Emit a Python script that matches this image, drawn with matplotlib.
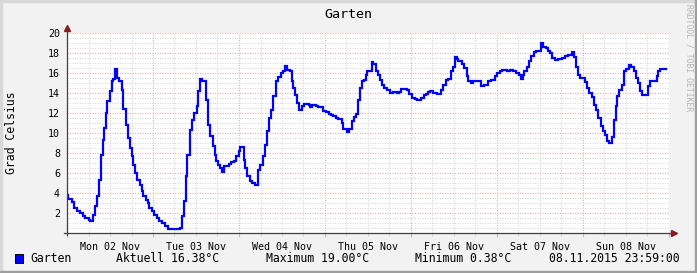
import matplotlib
matplotlib.use("Agg")
import matplotlib.pyplot as plt
import matplotlib.ticker as mticker
from matplotlib.patches import Rectangle

# Messwerte Garten, Stunden ab Mo 02.11.2015 00:00 (Stufenwerte)
HOURS = [
    0.0, 0.4, 1.3, 2.0, 2.7, 3.6, 4.4, 5.0, 6.0, 6.4, 7.3, 7.8, 8.5, 9.0, 9.5,
    10.0, 10.4, 10.9, 11.3, 11.9, 12.5, 12.9, 13.5, 14.0, 14.6, 15.3, 15.7,
    16.4, 16.9, 17.6, 18.0, 18.5, 19.0, 19.6, 20.4, 20.8, 21.3, 22.0, 22.5,
    23.0, 23.6, 24.4, 25.0, 25.8, 26.4, 27.3, 28.2, 29.6, 31.5, 32.1, 32.7,
    33.2, 33.6, 34.3, 34.9, 35.5, 36.2, 36.6, 37.2, 37.8, 38.9, 39.3, 40.0,
    40.7, 41.2, 41.6, 42.1, 42.6, 43.2, 43.8, 45.1, 45.8, 46.6, 47.2, 47.9,
    48.4, 49.4, 49.8, 50.3, 51.0, 51.6, 52.4, 53.3, 53.9, 54.7, 55.2, 55.8,
    56.4, 57.0, 57.6, 58.2, 59.0, 59.6, 60.4, 60.8, 61.5, 62.2, 62.7, 63.2,
    63.6, 64.3, 64.8, 65.7, 66.2, 67.4, 67.8, 68.5, 69.4, 70.1, 71.5, 72.3,
    73.0, 73.6, 74.3, 75.1, 75.7, 76.7, 77.1, 78.2, 78.8, 79.5, 80.1, 80.7,
    81.3, 81.8, 82.2, 83.0, 83.4, 83.8, 85.0, 85.5, 86.1, 86.9, 87.4, 88.0,
    88.6, 89.2, 90.1, 91.1, 92.0, 92.7, 93.2, 94.8, 95.5, 96.2, 97.0, 97.6,
    98.8, 99.5, 100.1, 100.8, 101.3, 102.2, 103.2, 104.4, 105.0, 105.7, 106.4,
    107.2, 107.8, 108.3, 108.8, 109.2, 110.3, 110.9, 111.5, 112.0, 112.7,
    113.4, 115.5, 116.4, 117.6, 118.2, 119.5, 120.1, 120.9, 121.5, 122.7,
    123.6, 124.6, 125.3, 126.2, 126.6, 127.2, 127.6, 128.3, 129.0, 129.5,
    130.2, 130.9, 132.3, 132.9, 133.7, 134.3, 134.8, 135.3, 136.2, 137.1,
    138.1, 139.0, 139.9, 140.9, 141.6, 142.1, 142.7, 143.2, 144.6, 145.2,
    145.8, 146.4, 147.1, 147.6, 148.3, 148.9, 149.5, 150.1, 150.6, 151.3,
    152.0, 152.7, 153.1, 153.6, 154.1, 154.8, 155.4, 156.0, 156.7, 157.3,
    158.1, 158.7, 159.4, 159.9, 160.4, 162.2, 162.7, 164.6, 165.0, 165.5,
    167.3,
]
TEMPS = [
    3.8, 3.4, 3.1, 2.5, 2.2, 2.0, 1.75, 1.5, 1.35, 1.25, 1.8, 2.7, 3.7, 5.3, 7.8,
    9.3, 10.5, 12.0, 13.2, 14.2, 15.2, 15.4, 16.4, 15.5, 15.2, 14.3, 12.4,
    10.8, 9.5, 8.5, 7.7, 6.8, 6.0, 5.3, 4.8, 4.2, 3.7, 3.3, 3.0,
    2.5, 2.2, 1.8, 1.5, 1.25, 1.0, 0.7, 0.45, 0.38, 0.5, 1.7, 3.2,
    5.7, 7.8, 10.3, 11.3, 12.0, 12.7, 14.2, 15.4, 15.2, 13.3, 10.8, 9.7,
    8.7, 7.8, 7.2, 6.8, 6.5, 6.1, 6.7, 6.9, 7.1, 7.25, 7.7, 8.2,
    8.6, 7.3, 6.5, 5.7, 5.2, 5.0, 4.8, 6.3, 6.8, 7.7, 8.8, 10.2,
    11.5, 12.3, 13.7, 15.2, 15.6, 16.0, 16.2, 16.7, 16.3, 16.2, 15.2, 14.5,
    13.8, 13.0, 12.3, 12.7, 12.9, 12.8, 12.6, 12.8, 12.7, 12.6, 12.2, 12.1,
    11.9, 11.8, 11.7, 11.5, 11.4, 11.0, 10.4, 10.1, 10.4, 11.2, 11.6, 11.9,
    13.3, 14.5, 15.2, 15.3, 15.8, 16.2, 17.1, 16.9, 16.2, 15.8, 15.3, 14.8,
    14.5, 14.3, 14.0, 14.1, 14.0, 14.1, 14.4, 14.3, 13.9, 13.5, 13.4, 13.3,
    13.5, 13.8, 13.9, 14.1, 14.2, 14.0, 13.9, 14.3, 14.8, 15.3, 15.4,
    16.2, 16.6, 17.6, 17.4, 17.2, 16.9, 16.5, 15.7, 15.2, 15.0,
    15.2, 14.7, 14.8, 15.2, 15.3, 15.7, 16.0, 16.2, 16.3, 16.2,
    16.3, 16.2, 16.0, 15.8, 15.4, 15.8, 16.2, 16.6, 17.2, 17.7,
    18.1, 18.2, 19.0, 18.6, 18.5, 18.2, 18.0, 17.5, 17.3, 17.4,
    17.5, 17.7, 17.8, 18.1, 17.6, 16.6, 15.8, 15.5, 15.1, 14.5,
    14.0, 13.6, 12.8, 12.3, 11.5, 10.7, 10.2, 9.8, 9.2, 9.0,
    9.6, 11.3, 12.7, 13.7, 14.3, 14.8, 16.2, 16.4, 16.8, 16.6,
    16.2, 15.5, 15.0, 14.2, 13.8, 14.7, 15.2, 15.7, 16.2, 16.4,
    16.38,
]
DAY_LABELS = ["Mon 02 Nov", "Tue 03 Nov", "Wed 04 Nov", "Thu 05 Nov",
              "Fri 06 Nov", "Sat 07 Nov", "Sun 08 Nov"]
LEGEND_NAME = "Garten"
LEGEND_STATS = ["Aktuell 16.38°C", "Maximum 19.00°C", "Minimum 0.38°C"]
TIMESTAMP = "08.11.2015 23:59:00"

BACK = "#f2f2f2"
MGRID = "#eaa8a8"
GRID = "#d6d6d6"
AXIS = "#404040"
ARROW = "#8b1a1a"
LINE = "#0000ff"
MONO = "DejaVu Sans Mono"

W, H = 697, 273
fig = plt.figure(figsize=(W / 100, H / 100), dpi=100, facecolor=BACK)
ax = fig.add_axes([67 / W, 40 / H, 602 / W, 200 / H])
ax.set_facecolor("white")

ax.plot(HOURS, TEMPS, color=LINE, linewidth=1.6, drawstyle="steps-post",
        solid_joinstyle="miter", zorder=3)

ax.set_xlim(0, 168)
ax.set_ylim(0, 20)

# Gitter: Tage rot, 6h grau; 2 Grad rot, 0.5 Grad grau
ax.xaxis.set_major_locator(mticker.MultipleLocator(24))
ax.xaxis.set_minor_locator(mticker.MultipleLocator(6))
ax.yaxis.set_major_locator(mticker.MultipleLocator(2))
ax.yaxis.set_minor_locator(mticker.MultipleLocator(0.5))
dots = (0, (1, 1.4))
ax.grid(which="major", color=MGRID, linestyle=dots, linewidth=0.75)
ax.grid(which="minor", color=GRID, linestyle=dots, linewidth=0.75)
ax.set_axisbelow(True)

ax.xaxis.set_major_formatter(mticker.NullFormatter())
ax.tick_params(axis="x", which="major", length=3, width=0.8, color=MGRID, direction="out")
ax.tick_params(axis="x", which="minor", length=2, width=0.8, color=GRID, direction="out")
ax.tick_params(axis="y", which="both", length=0, pad=5, labelsize=7.2)
ax.set_yticks(range(0, 21, 2))
ax.set_yticklabels([""] + [str(v) for v in range(2, 21, 2)], family=MONO)

for i, lab in enumerate(DAY_LABELS):
    ax.text(24 * i + 12, -0.045, lab, transform=ax.get_xaxis_transform(),
            ha="center", va="top", fontsize=7.2, family=MONO)

for s in ax.spines.values():
    s.set_visible(False)

# Achsen mit Pfeilen
ax.plot([0, 0], [-0.01, 1.02], transform=ax.transAxes, color=AXIS, lw=0.9, clip_on=False, zorder=4)
ax.plot([-0.005, 1.006], [0, 0], transform=ax.transAxes, color=AXIS, lw=0.9, clip_on=False, zorder=4)
ax.plot([0], [1.025], marker="^", markersize=4.5, color=ARROW, transform=ax.transAxes, clip_on=False, zorder=5)
ax.plot([1.008], [0], marker=">", markersize=4.5, color=ARROW, transform=ax.transAxes, clip_on=False, zorder=5)

# Texte
fig.text(348 / W, 1 - 14 / H, "Garten", ha="center", va="center", fontsize=9.6, family=MONO)
fig.text(12 / W, 1 - 133 / H, "Grad Celsius", rotation=90, ha="center", va="center",
         fontsize=8.3, family=MONO)
fig.text(689 / W, 1 - 4 / H, "RRDTOOL / TOBI OETIKER", rotation=270, ha="center", va="top",
         fontsize=5.8, family=MONO, color="#b4b4b4")

ly = 1 - 258 / H
fig.add_artist(Rectangle((15 / W, 10 / H), 8 / W, 9 / H, facecolor=LINE, edgecolor="black",
                         linewidth=0.7, transform=fig.transFigure))
fig.text(30 / W, ly, LEGEND_NAME, ha="left", va="center", fontsize=8.3, family=MONO)
for xpix, txt in zip([116, 266, 415], LEGEND_STATS):
    fig.text(xpix / W, ly, txt, ha="left", va="center", fontsize=8.3, family=MONO)
fig.text(549 / W, ly, TIMESTAMP, ha="left", va="center", fontsize=8.3, family=MONO)

# Rahmen (hell oben/links, dunkel unten/rechts)
fig.add_artist(Rectangle((0, 1 - 2 / H), 1, 2 / H, color="#d8d8d8", transform=fig.transFigure))
fig.add_artist(Rectangle((0, 0), 2 / W, 1, color="#d8d8d8", transform=fig.transFigure))
fig.add_artist(Rectangle((0, 0), 1, 2 / H, color="#9e9e9e", transform=fig.transFigure))
fig.add_artist(Rectangle((1 - 2 / W, 0), 2 / W, 1, color="#9e9e9e", transform=fig.transFigure))

fig.savefig("out.png", dpi=100, facecolor=BACK)
